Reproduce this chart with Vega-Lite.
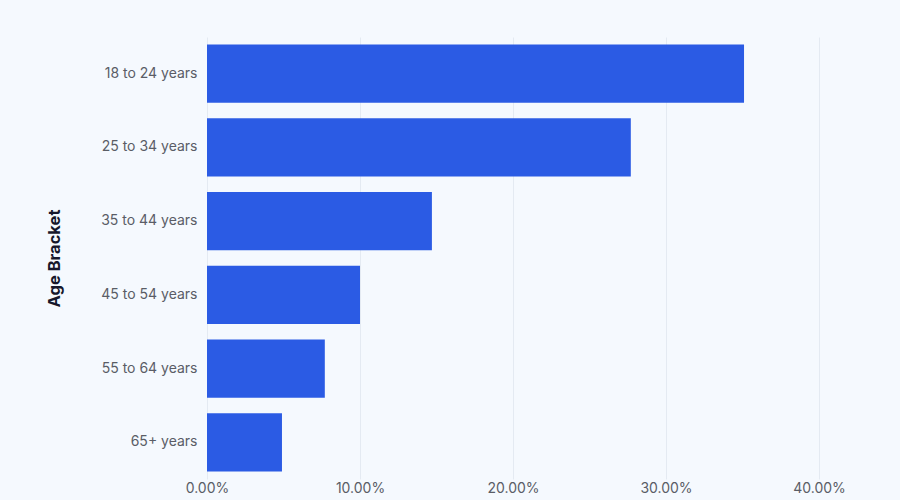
{
  "$schema": "https://vega.github.io/schema/vega-lite/v6.json",
  "width": 612,
  "height": 442,
  "autosize": "none",
  "padding": {"left": 207, "top": 37, "right": 81, "bottom": 21},
  "background": "#f5f9fe",
  "config": {
    "view": {"stroke": null},
    "font": "Inter"
  },
  "data": {
    "values": [
      {"age": "18 to 24 years", "share": 0.351},
      {"age": "25 to 34 years", "share": 0.277},
      {"age": "35 to 44 years", "share": 0.147},
      {"age": "45 to 54 years", "share": 0.100},
      {"age": "55 to 64 years", "share": 0.077},
      {"age": "65+ years", "share": 0.049}
    ]
  },
  "mark": {"type": "bar", "color": "#2b5be4"},
  "encoding": {
    "y": {
      "field": "age", "type": "nominal", "sort": null,
      "scale": {"paddingInner": 0.21, "paddingOuter": 0.1},
      "axis": {
        "title": "Age Bracket", "titleFontSize": 16.5, "titleFontWeight": "bold", "titleColor": "#16172b",
        "titlePadding": 38, "labelFontSize": 14, "labelColor": "#5a5d66", "labelPadding": 10,
        "ticks": false, "domain": false
      }
    },
    "x": {
      "field": "share", "type": "quantitative",
      "scale": {"domain": [0, 0.4]},
      "axis": {
        "title": null, "format": ".2%", "values": [0, 0.1, 0.2, 0.3, 0.4],
        "labelFontSize": 14, "labelColor": "#5a5d66", "labelPadding": 2, "labelFlush": false,
        "ticks": false, "domain": false, "gridColor": "#e4eaf2"
      }
    }
  }
}
